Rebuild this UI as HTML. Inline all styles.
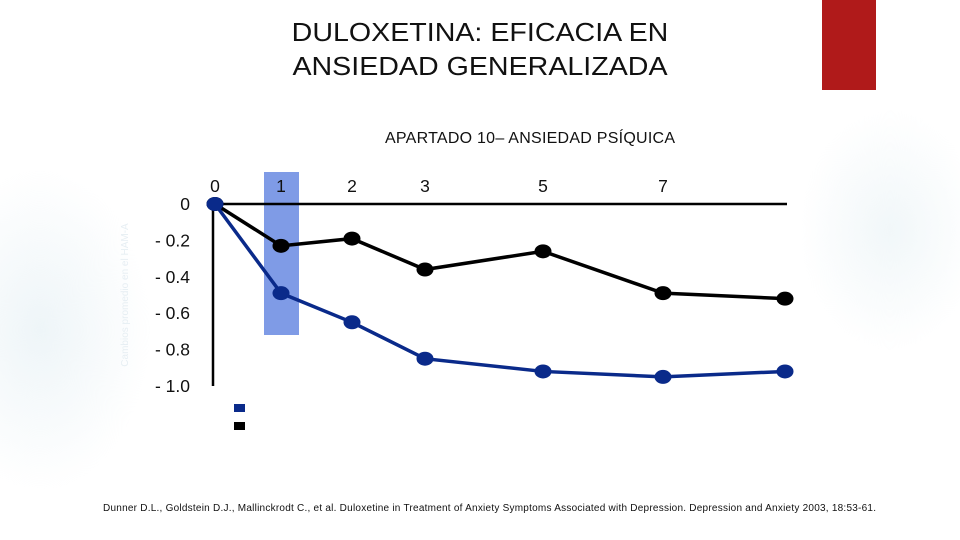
<!DOCTYPE html>
<html><head><meta charset="utf-8"><style>
html,body{margin:0;padding:0;}
body{width:960px;height:540px;overflow:hidden;position:relative;font-family:"Liberation Sans",sans-serif;
background:radial-gradient(ellipse 110px 160px at 40px 330px,#eef5f8 0%,rgba(255,255,255,0) 100%),radial-gradient(ellipse 90px 120px at 890px 230px,#f1f7f9 0%,rgba(255,255,255,0) 100%),#fff;}
</style></head><body>
<div style="position:absolute;left:822px;top:0;width:54px;height:90px;background:#b01a1a"></div>
<div style="position:absolute;left:0;width:960px;top:15px;text-align:center;font-size:26px;line-height:34px;color:#111;transform:scaleX(1.1);transform-origin:480px 0">DULOXETINA: EFICACIA EN<br>ANSIEDAD GENERALIZADA</div>
<svg width="960" height="540" style="position:absolute;left:0;top:0" font-family="Liberation Sans, sans-serif">
<text x="530" y="143" text-anchor="middle" font-size="16" textLength="290" fill="#111">APARTADO 10– ANSIEDAD PSÍQUICA</text>
<rect x="264" y="172" width="35" height="163" fill="#7f9be6"/>
<text transform="translate(128,295) rotate(-90)" text-anchor="middle" font-size="10" fill="#e6eef3">Cambios promedio en el HAM-A</text>
<g id="axes"></g><g id="series"></g>
<rect x="234" y="404" width="11" height="8" fill="#0a2a8a"/>
<rect x="234" y="422" width="11" height="8" fill="#000"/>
<text x="103" y="511" font-size="10" textLength="773" fill="#111">Dunner D.L., Goldstein D.J., Mallinckrodt C., et al.  Duloxetine in Treatment of Anxiety Symptoms Associated with Depression.  Depression and Anxiety 2003, 18:53-61.</text>
</svg>
<script>
const weeks=[0,1,2,3,5,7,9];
const weekLabels=["0","1","2","3","5","7",""];
const placebo=[0,-0.23,-0.19,-0.36,-0.26,-0.49,-0.52];
const duloxetine=[0,-0.49,-0.65,-0.85,-0.92,-0.95,-0.92];
const yTicks=[0,-0.2,-0.4,-0.6,-0.8,-1.0];
const yTickLabels=["0","- 0.2","- 0.4","- 0.6","- 0.8","- 1.0"];
const NS="http://www.w3.org/2000/svg";
const xDom=[0,1,2,3,5,7,9],xRng=[215,281,352,425,543,663,785];
function xs(w){for(let i=0;i<xDom.length-1;i++){if(w<=xDom[i+1]){return xRng[i]+(w-xDom[i])/(xDom[i+1]-xDom[i])*(xRng[i+1]-xRng[i]);}}return xRng[xRng.length-1];}
function ys(v){return 204-v*182;}
function mk(t,a,p){const e=document.createElementNS(NS,t);for(const k in a)e.setAttribute(k,a[k]);p.appendChild(e);return e;}
const ax=document.getElementById('axes');
let l=mk('line',{x1:213,y1:ys(0),x2:787,y2:ys(0),stroke:'#000','stroke-width':2.5},ax);


l=mk('line',{x1:213,y1:ys(0),x2:213,y2:ys(-1),stroke:'#000','stroke-width':2.5},ax);


yTicks.forEach((v,i)=>{const t=mk('text',{x:190,y:ys(v)+6,'text-anchor':'end','font-size':17.5,fill:'#111'},ax);t.textContent=yTickLabels[i];

});
weeks.forEach((w,i)=>{if(!weekLabels[i])return;const t=mk('text',{x:xs(w),y:192,'text-anchor':'middle','font-size':17.5,fill:'#111'},ax);t.textContent=weekLabels[i];

});
const sg=document.getElementById('series');
function draw(vals,col,name,r){
const p=mk('polyline',{points:weeks.map((w,i)=>xs(w)+','+ys(vals[i])).join(' '),fill:'none',stroke:col,'stroke-width':3.5},sg);


weeks.forEach((w,i)=>{const c=mk('ellipse',{cx:xs(w),cy:ys(vals[i]),rx:r+1.5,ry:r,fill:col},sg);

});}
draw(placebo,'#000','placebo',7);
draw(duloxetine,'#0a2a8a','duloxetine',7);
</script>
</body></html>
